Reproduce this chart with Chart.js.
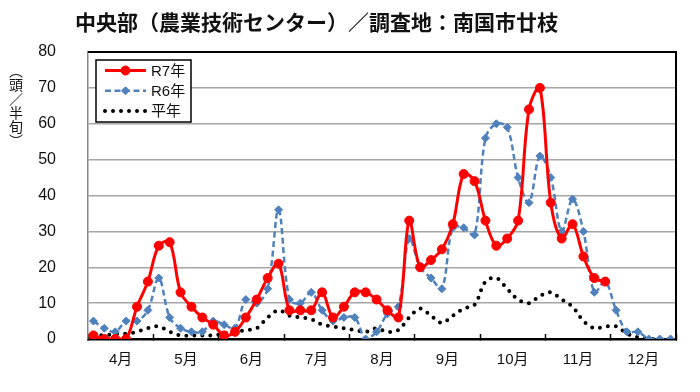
<!DOCTYPE html>
<html lang="ja">
<head>
<meta charset="utf-8">
<script src="https://cdn.jsdelivr.net/npm/chart.js@4.4.1/dist/chart.umd.min.js"></script>
<style>
    html, body { margin: 0; padding: 0; background: #fff; }
    #wrap { position: relative; width: 700px; height: 392px; }
    #title {
        position: absolute; left: 75px; top: 11px;
        font: bold 21px 'Noto Sans CJK JP', sans-serif; line-height: 21px;
        color: #111; white-space: nowrap;
    }
    #yTitle {
        position: absolute; left: 9px; top: 64px;
        writing-mode: vertical-rl;
        font: 14px 'Noto Sans CJK JP', sans-serif; line-height: 14px;
        color: #111;
    }
    canvas { position: absolute; left: 0; top: 0; }
</style>
</head>
<body>
<div id="wrap">
    <canvas id="chart" width="700" height="392"></canvas>
    <div id="title">中央部（農業技術センター）／調査地：南国市廿枝</div>
    <div id="yTitle">（頭／半旬）</div>
</div>
<script>
const months = ['4月', '5月', '6月', '7月', '8月', '9月', '10月', '11月', '12月'];
const categories = months.flatMap((m) => [1, 2, 3, 4, 5, 6].map((k) => `${m}第${k}半旬`));

const r7 = [1, 0, 0, 0, 9, 16, 26, 27, 13, 9, 6, 4,
    1, 2, 6, 11, 17, 21, 8, 8, 8, 13, 6, 9,
    13, 13, 11, 8, 6, 33, 20, 22, 25, 32, 46, 44,
    33, 26, 28, 33, 64, 70, 38, 28, 32, 23, 17, 16,
    null, null, null, null, null, null];
const r6 = [5, 3, 2, 5, 5, 8, 17, 6, 3, 2, 2, 5,
    4, 3, 11, 10, 14, 36, 11, 10, 13, 8, 5, 6,
    6, 0, 2, 7, 9, 28, 20, 17, 14, 31, 31, 29,
    56, 60, 59, 45, 38, 51, 45, 30, 39, 30, 13, 16,
    8, 2, 2, 0, 0, 0];
const normal = [1.5, 1, 1.5, 1.5, 2, 3, 3.5, 2, 1, 1, 1, 1,
    1.5, 2, 2.5, 3, 6, 8, 6.5, 6, 5.5, 4, 3.5, 3,
    2.5, 2, 3, 2, 2.5, 6, 8.5, 6.5, 4.5, 6.5, 8.5, 9.5,
    16, 17, 14, 11, 10, 12, 13, 11, 9, 5, 3, 3.5,
    3.5, 1.5, 0.5, 0, 0, 0];

const yTicks = [0, 10, 20, 30, 40, 50, 60, 70, 80];

const perMonth = 6;
const isBoundary = (v) => Math.abs(((v + 0.5) % perMonth + perMonth) % perMonth) < 1e-6;

// frame on top and right of the plot
const plotFrame = {
    id: 'plotFrame',
    afterDraw(chart) {
        const { ctx, chartArea: a } = chart;
        ctx.save();
        ctx.strokeStyle = '#000';
        ctx.lineWidth = 2;
        ctx.beginPath();
        ctx.moveTo(a.left, a.top);
        ctx.lineTo(a.right, a.top);
        ctx.lineTo(a.right, a.bottom);
        ctx.stroke();
        ctx.restore();
    },
};

// boxed legend in the top-left corner of the plot
const boxLegend = {
    id: 'boxLegend',
    afterDraw(chart) {
        const { ctx, chartArea: a } = chart;
        const x = a.left + 8;
        const y = a.top + 8;
        const w = 95;
        const h = 62;
        ctx.save();
        ctx.fillStyle = '#fff';
        ctx.fillRect(x, y, w, h);
        ctx.strokeStyle = '#000';
        ctx.lineWidth = 1.5;
        ctx.strokeRect(x, y, w, h);
        chart.data.datasets.forEach((ds, i) => {
            const cy = y + 10.5 + i * 20.3;
            ctx.save();
            ctx.strokeStyle = ds.borderColor;
            ctx.lineWidth = ds.borderWidth;
            ctx.lineCap = ds.borderCapStyle || 'butt';
            ctx.setLineDash(ds.borderDash || []);
            ctx.beginPath();
            ctx.moveTo(x + 9, cy);
            ctx.lineTo(x + 50, cy);
            ctx.stroke();
            ctx.restore();
            if (ds.pointRadius > 0) {
                ctx.fillStyle = ds.pointBackgroundColor;
                ctx.strokeStyle = ds.pointBorderColor;
                ctx.lineWidth = ds.pointBorderWidth;
                ctx.setLineDash([]);
                ctx.beginPath();
                if (ds.pointStyle === 'rectRot') {
                    const r = ds.pointRadius;
                    ctx.moveTo(x + 29.5, cy - r);
                    ctx.lineTo(x + 29.5 + r, cy);
                    ctx.lineTo(x + 29.5, cy + r);
                    ctx.lineTo(x + 29.5 - r, cy);
                    ctx.closePath();
                } else {
                    ctx.arc(x + 29.5, cy, ds.pointRadius, 0, Math.PI * 2);
                }
                ctx.fill();
                ctx.stroke();
            }
            ctx.fillStyle = '#111';
            ctx.font = "15px 'Liberation Sans', 'Noto Sans CJK JP', sans-serif";
            ctx.textBaseline = 'middle';
            ctx.fillText(ds.label, x + 55, cy + 1);
        });
        ctx.restore();
    },
};

new Chart(document.getElementById('chart'), {
    type: 'line',
    data: {
        labels: categories.map((c, i) => i),
        datasets: [
            {
                label: 'R7年',
                data: r7,
                borderColor: '#ff0000',
                backgroundColor: '#ff0000',
                borderWidth: 3,
                tension: 0.35,
                pointStyle: 'circle',
                pointRadius: 4.5,
                pointBorderWidth: 1,
                pointBackgroundColor: '#ff0000',
                pointBorderColor: '#ff0000',
            },
            {
                label: 'R6年',
                data: r6,
                borderColor: '#4f81bd',
                backgroundColor: '#4f81bd',
                borderWidth: 2.5,
                borderDash: [6, 3.5],
                tension: 0.35,
                pointStyle: 'rectRot',
                pointRadius: 4,
                pointBorderWidth: 1,
                pointBackgroundColor: '#4f81bd',
                pointBorderColor: '#4f81bd',
            },
            {
                label: '平年',
                data: normal,
                borderColor: '#000000',
                backgroundColor: '#000000',
                borderWidth: 4,
                borderDash: [0, 8],
                borderCapStyle: 'round',
                tension: 0.35,
                pointRadius: 0,
            },
        ],
    },
    options: {
        responsive: false,
        animation: false,
        events: [],
        layout: {
            padding: { left: 0, right: 24, top: 52, bottom: 0 },
        },
        plugins: {
            legend: { display: false },
            tooltip: { enabled: false },
        },
        scales: {
            x: {
                type: 'linear',
                min: -0.5,
                max: categories.length - 0.5,
                afterBuildTicks: (scale) => {
                    const ticks = [];
                    for (let v = -0.5; v <= categories.length - 0.5 + 1e-6; v += perMonth / 2) {
                        ticks.push({ value: v });
                    }
                    scale.ticks = ticks;
                },
                afterFit: (scale) => {
                    scale.height = 53;
                },
                ticks: {
                    autoSkip: false,
                    maxRotation: 0,
                    padding: 17,
                    color: '#111',
                    font: { family: "'Liberation Sans', 'Noto Sans CJK JP', sans-serif", size: 15 },
                    callback: (value) => (isBoundary(value) ? '' : months[Math.round((value - 2.5) / perMonth)]),
                },
                grid: {
                    drawOnChartArea: false,
                    tickLength: -5,
                    tickWidth: 1.5,
                    tickColor: (ctx) => (ctx.tick && isBoundary(ctx.tick.value) ? '#000' : 'rgba(0,0,0,0)'),
                },
                border: { color: '#000', width: 2.5 },
            },
            y: {
                min: 0,
                max: 80,
                afterBuildTicks: (scale) => {
                    scale.ticks = yTicks.map((v) => ({ value: v }));
                },
                afterFit: (scale) => {
                    scale.width = 88;
                },
                ticks: {
                    padding: 32,
                    color: '#111',
                    font: { family: "'Liberation Sans', sans-serif", size: 16 },
                },
                grid: {
                    color: '#a6a6a6',
                    lineWidth: 1.5,
                    drawTicks: false,
                },
                border: { color: '#868686', width: 1.5 },
            },
        },
    },
    plugins: [plotFrame, boxLegend],
});
</script>
</body>
</html>
